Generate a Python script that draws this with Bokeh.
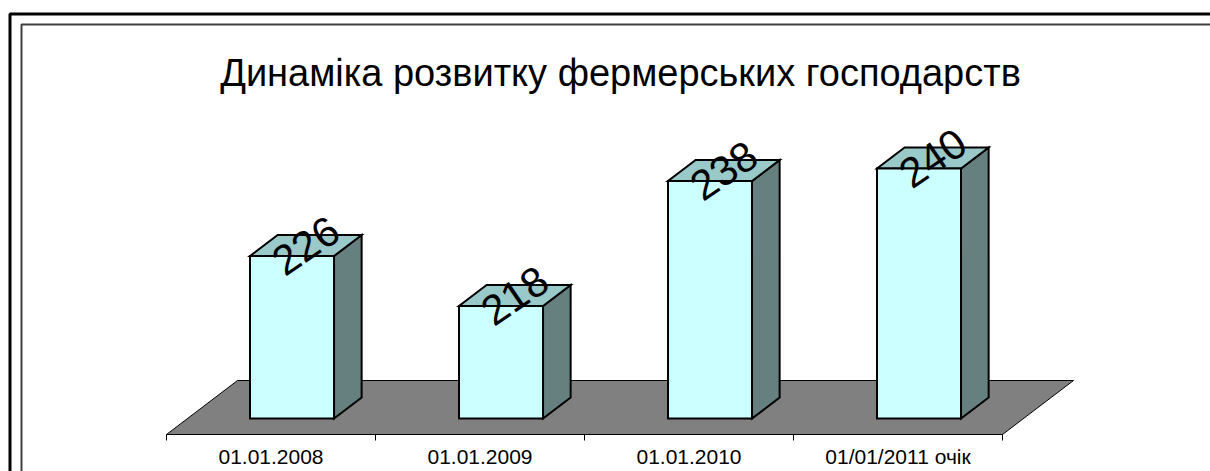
from bokeh.plotting import figure
from bokeh.models import Range1d, ColumnDataSource
from bokeh.core.properties import value
from bokeh.embed import file_html
from bokeh.resources import INLINE

# ---- data ----
categories = ["01.01.2008", "01.01.2009", "01.01.2010", "01/01/2011 очік"]
farms = [226, 218, 238, 240]
title_text = "Динаміка розвитку фермерських господарств"

# ---- layout (pixel geometry of the 3D projection) ----
AXIS_MIN = 200          # value at floor level
CAT_PX = 209.0          # pixels per category
VAL_PX = 6.25           # pixels per value unit
ORIG_X, ORIG_Y = 166.0, 434.0   # image px of (0, AXIS_MIN) at front of floor
W, H = 1210, 471
OFF = 0


def px_x(px):
    return (px - ORIG_X) / CAT_PX


def px_y(py):
    return AXIS_MIN + (ORIG_Y - py) / VAL_PX


DX = 71.0 / CAT_PX      # depth vector (full floor depth) in data units
DV = 54.0 / VAL_PX
D_FRONT, D_BACK = 0.296, 0.685
HALF_W = 42.0 / CAT_PX

FONT = value("Liberation Sans")

p = figure(width=W, height=H, output_backend="svg", toolbar_location=None,
           x_range=Range1d(px_x(OFF), px_x(OFF + W)),
           y_range=Range1d(px_y(OFF + H), px_y(OFF)),
           x_axis_location=None, y_axis_location=None,
           min_border=0, outline_line_color=None, background_fill_color="white",
           border_fill_color="white")
p.grid.visible = False

# borders
p.line([px_x(9.5), px_x(9.5), px_x(1300)], [px_y(600), px_y(13.5), px_y(13.5)],
       line_color="black", line_width=3)
p.line([px_x(21), px_x(21), px_x(1300)], [px_y(600), px_y(24), px_y(24)],
       line_color="#404040", line_width=2)

# floor
n = len(categories)
p.patch([0, n, n + DX, DX], [AXIS_MIN, AXIS_MIN, AXIS_MIN + DV, AXIS_MIN + DV],
        fill_color="#808080", line_color="black", line_width=1)

# axis ticks
tick_len = 6.0 / VAL_PX
p.segment(x0=list(range(n + 1)), y0=[AXIS_MIN] * (n + 1),
          x1=list(range(n + 1)), y1=[AXIS_MIN - tick_len] * (n + 1),
          line_color="black", line_width=1)
p.segment(x0=[0], y0=[AXIS_MIN], x1=[n], y1=[AXIS_MIN], line_color="black", line_width=1)

# bars
sx, sy, tx, ty = [], [], [], []
front = dict(left=[], right=[], bottom=[], top=[])
dd = D_BACK - D_FRONT
for i, v in enumerate(farms):
    c = i + 0.5 + D_FRONT * DX
    xl, xr = c - HALF_W, c + HALF_W
    yb = AXIS_MIN + D_FRONT * DV
    yt = v + D_FRONT * DV
    front["left"].append(xl)
    front["right"].append(xr)
    front["bottom"].append(yb)
    front["top"].append(yt)
    sx.append([xr, xr, xr + dd * DX, xr + dd * DX])
    sy.append([yb, yt, yt + dd * DV, yb + dd * DV])
    tx.append([xl, xr, xr + dd * DX, xl + dd * DX])
    ty.append([yt, yt, yt + dd * DV, yt + dd * DV])

p.patches(sx, sy, fill_color="#668080", line_color="black", line_width=2, line_join="miter")
p.patches(tx, ty, fill_color="#99C9C9", line_color="black", line_width=2, line_join="miter")
p.quad(source=ColumnDataSource(front), left="left", right="right", bottom="bottom", top="top",
       fill_color="#CCFFFF", line_color="black", line_width=2, line_join="miter")

# value labels on top faces
dm = (D_FRONT + D_BACK) / 2
lab = ColumnDataSource(dict(
    x=[i + 0.5 + dm * DX for i in range(n)],
    y=[v + dm * DV for v in farms],
    t=[str(v) for v in farms]))
p.text(x="x", y="y", text="t", source=lab, angle=0.6, text_align="center",
       text_baseline="middle", text_font=FONT, text_font_size="42px", text_color="black")

# category labels
cl = ColumnDataSource(dict(x=[i + 0.5 for i in range(n)],
                           y=[px_y(456)] * n, t=categories))
p.text(x="x", y="y", text="t", source=cl, text_align="center", text_baseline="middle",
       text_font=FONT, text_font_size="21px", text_color="black")

# title
p.text(x=[px_x(620)], y=[px_y(72)], text=[title_text], text_align="center",
       text_baseline="middle", text_font=FONT, text_font_size="38px", text_color="black")

open("out.html", "w").write(file_html(p, INLINE))
